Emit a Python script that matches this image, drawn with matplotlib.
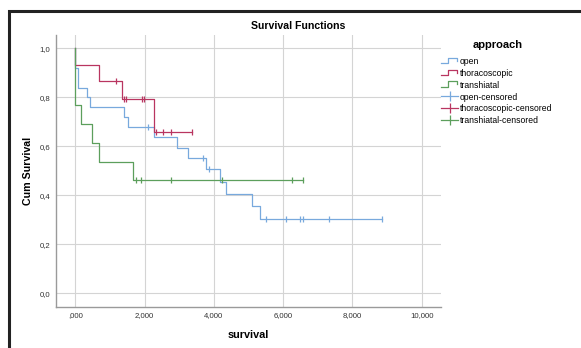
import matplotlib
matplotlib.use("Agg")
import matplotlib.pyplot as plt
from matplotlib.legend_handler import HandlerBase
from matplotlib.lines import Line2D
from matplotlib.patches import Rectangle
from matplotlib.ticker import FuncFormatter

plt.rcParams["font.family"] = ["Liberation Sans", "DejaVu Sans"]

# Kaplan-Meier steps (time, cumulative survival)
open_t = [0, 0, 80, 330, 405, 1413, 1510, 2260, 2923, 3250, 3770, 4183, 4346, 5089, 5329]
open_s = [1.0, 0.92, 0.84, 0.80, 0.76, 0.72, 0.68, 0.6375, 0.595, 0.5525, 0.5065, 0.4558, 0.405, 0.3545, 0.304]
open_end = 8845
open_cens_t = [2096, 3673, 3846, 5493, 6080, 6484, 6562, 7331, 8845]
open_cens_s = [0.68, 0.5525, 0.5065, 0.304, 0.304, 0.304, 0.304, 0.304, 0.304]

thor_t = [0, 0, 683, 1346, 2269]
thor_s = [1.0, 0.933, 0.867, 0.794, 0.66]
thor_end = 3365
thor_cens_t = [1183, 1394, 1460, 1923, 1990, 2327, 2519, 2750, 3365]
thor_cens_s = [0.867, 0.794, 0.794, 0.794, 0.794, 0.66, 0.66, 0.66, 0.66]

trans_t = [0, 0, 165, 490, 673, 1663]
trans_s = [1.0, 0.769, 0.692, 0.615, 0.538, 0.4615]
trans_end = 6580
trans_cens_t = [1750, 1904, 2750, 4230, 6244, 6580]
trans_cens_s = [0.4615] * 6

groups = ["open", "thoracoscopic", "transhiatal"]
colors = ["#78a9dd", "#b93560", "#5c9f5c"]
x_ticks = [0, 2000, 4000, 6000, 8000, 10000]
y_ticks = [0.0, 0.2, 0.4, 0.6, 0.8, 1.0]


class StepHandler(HandlerBase):
    # little SPSS-style step glyph for the survival lines
    def create_artists(self, legend, orig, xd, yd, w, h, fontsize, trans):
        y0, y1 = yd + h * 0.1, yd + h * 0.9
        xs = [xd, xd + w * 0.4, xd + w * 0.4, xd + w * 0.92, xd + w * 0.92]
        ys = [y0, y0, y1, y1, y0 + h * 0.35]
        ln = Line2D(xs, ys, color=orig.get_color(), lw=0.9, transform=trans)
        return [ln]


W, H = 581, 348
fig = plt.figure(figsize=(W / 100, H / 100), dpi=100)
ax = fig.add_axes([56 / W, 1 - 306.7 / H, (441 - 56) / W, (306.7 - 35) / H])

series = [
    (open_t, open_s, open_end, open_cens_t, open_cens_s),
    (thor_t, thor_s, thor_end, thor_cens_t, thor_cens_s),
    (trans_t, trans_s, trans_end, trans_cens_t, trans_cens_s),
]
handles = []
for (t, s, end, ct, cs), name, c in zip(series, groups, colors):
    h, = ax.step(t + [end], s + [s[-1]], where="post", color=c, lw=0.9, label=name, zorder=3)
    handles.append(h)
cens_handles = []
for (t, s, end, ct, cs), name, c in zip(series, groups, colors):
    ax.plot(ct, cs, ls="none", marker="|", ms=5, mew=0.9, color=c, zorder=4)
    cens_handles.append(Line2D([0, 1], [0, 0], color=c, lw=0.9, marker="|", ms=7, mew=0.9,
                               markevery=[1], label=f"{name}-censored"))

ax.set_xlim(-563, 10557)
ax.set_ylim(-0.055, 1.055)
ax.set_xticks(x_ticks)
ax.set_yticks(y_ticks)
ax.xaxis.set_major_formatter(FuncFormatter(lambda v, p: ",000" if v == 0 else f"{int(v):,}"))
ax.yaxis.set_major_formatter(FuncFormatter(lambda v, p: f"{v:.1f}".replace(".", ",")))
ax.tick_params(length=0, labelsize=5.6, colors="#333333", pad=4)
ax.grid(True, color="#d4d4d4", lw=0.8)
ax.set_axisbelow(True)
for side in ("top", "right"):
    ax.spines[side].set_visible(False)
for side in ("left", "bottom"):
    ax.spines[side].set_color("#9a9a9a")
    ax.spines[side].set_linewidth(1.0)

fig.text(248.5 / W, 1 - 335 / H, "survival", ha="center", va="center", fontsize=7.8, fontweight="bold")
fig.text(28 / W, 1 - 171 / H, "Cum Survival", ha="center", va="center", rotation=90,
         fontsize=7.7, fontweight="bold")
fig.text(298 / W, 1 - 26 / H, "Survival Functions", ha="center", va="center", fontsize=7.6,
         fontweight="bold")
fig.text(498 / W, 1 - 45 / H, "approach", ha="center", va="center", fontsize=8, fontweight="bold")

leg = fig.legend(handles + cens_handles, [h.get_label() for h in handles + cens_handles],
                 loc="upper left", bbox_to_anchor=(441 / W, 1 - 57 / H), frameon=False,
                 fontsize=6.2, handlelength=2.0, handleheight=0.8,
                 handletextpad=0.15, labelspacing=0.33, borderaxespad=0, borderpad=0,
                 handler_map={h: StepHandler() for h in handles})

# dark frame around the chart area (right/bottom run off the image)
fig.add_artist(Rectangle((9 / W, -0.1), 1.2, 1 - 11 / H + 0.1, transform=fig.transFigure,
                         fill=False, ec="#222222", lw=2.2))

fig.savefig("out.png", dpi=100)
